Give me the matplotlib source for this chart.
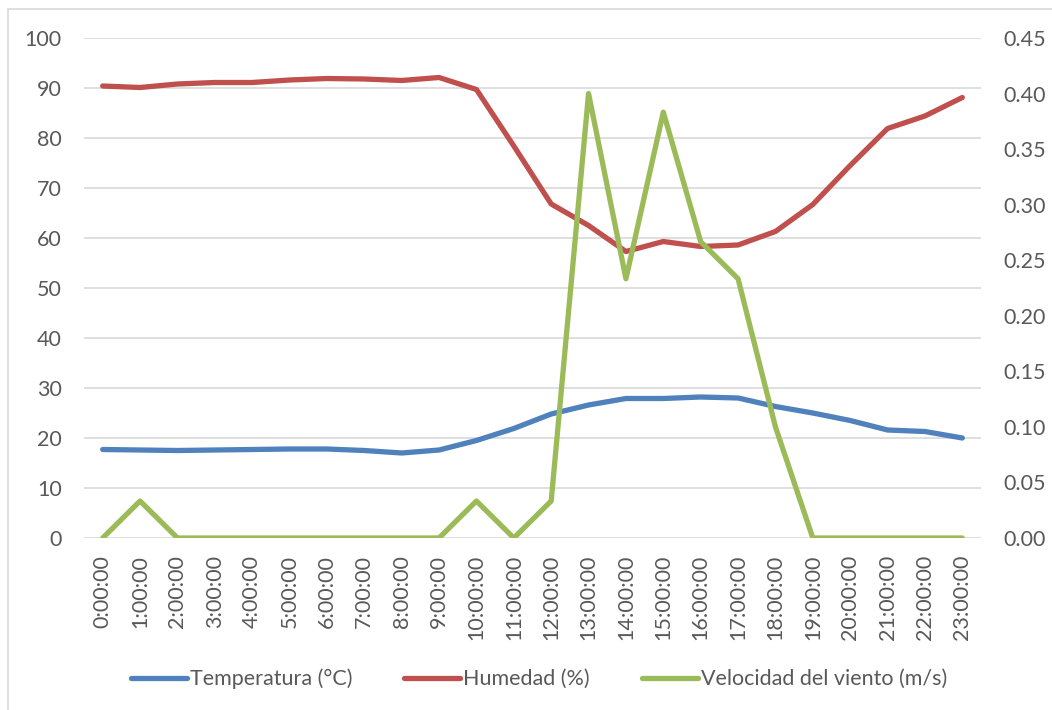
import matplotlib
matplotlib.use("Agg")
import matplotlib.pyplot as plt
from matplotlib.patches import Rectangle
from matplotlib.ticker import FormatStrFormatter, MultipleLocator

plt.rcParams['font.family'] = ['Lato', 'DejaVu Sans']

horas = [f"{h}:00:00" for h in range(24)]

temperatura = [17.7, 17.6, 17.5, 17.6, 17.7, 17.8, 17.8, 17.5, 17.0, 17.6,
               19.5, 21.9, 24.8, 26.6, 27.9, 27.9, 28.2, 28.0, 26.3, 25.0,
               23.5, 21.6, 21.3, 20.0]
humedad = [90.4, 90.1, 90.8, 91.1, 91.1, 91.6, 91.9, 91.8, 91.5, 92.1,
           89.7, 78.4, 66.8, 62.5, 57.3, 59.3, 58.3, 58.6, 61.3, 66.7,
           74.5, 81.9, 84.4, 88.1]
viento = [0.0, 0.0333, 0.0, 0.0, 0.0, 0.0, 0.0, 0.0, 0.0, 0.0,
          0.0333, 0.0, 0.0333, 0.4, 0.2333, 0.3833, 0.2667, 0.2333, 0.1, 0.0,
          0.0, 0.0, 0.0, 0.0]

etiquetas = ["Temperatura (°C)", "Humedad (%)", "Velocidad del viento (m/s)"]
colores = ["#4F81BD", "#C0504D", "#9BBB59"]

W, H = 1052, 710
fig = plt.figure(figsize=(W / 100, H / 100), dpi=100)
fig.patch.set_facecolor("white")

# chart-area border
fig.patches.append(Rectangle((8 / W, -0.1), 1.2, (H - 9) / H + 0.1,
                             transform=fig.transFigure, fill=False,
                             edgecolor="#D9D9D9", linewidth=1.2))

left, right, top, bottom = 84, 981, 38, 538
ax = fig.add_axes([left / W, (H - bottom) / H, (right - left) / W, (bottom - top) / H])
ax2 = ax.twinx()

x = list(range(len(horas)))
lw = 3.8
l1, = ax.plot(x, temperatura, color=colores[0], lw=lw, solid_capstyle="round", solid_joinstyle="round")
l2, = ax.plot(x, humedad, color=colores[1], lw=lw, solid_capstyle="round", solid_joinstyle="round")
l3, = ax2.plot(x, viento, color=colores[2], lw=lw, solid_capstyle="round", solid_joinstyle="round")

ax.set_xlim(-0.5, len(horas) - 0.5)
ax.set_ylim(0, 100)
ax2.set_ylim(0, 0.45)
ax.yaxis.set_major_locator(MultipleLocator(10))
ax2.yaxis.set_major_locator(MultipleLocator(0.05))
ax2.yaxis.set_major_formatter(FormatStrFormatter("%.2f"))

ax.set_xticks(x)
ax.set_xticklabels(horas, rotation=90)

ax.grid(axis="y", color="#D9D9D9", linewidth=1.2)
ax.set_axisbelow(True)
for a in (ax, ax2):
    for s in a.spines.values():
        s.set_visible(False)

fs = 15.5
tick_kw = dict(length=0, labelsize=fs, labelcolor="#595959")
ax.tick_params(axis="y", pad=16, **tick_kw)
ax2.tick_params(axis="y", pad=16, **tick_kw)
ax.tick_params(axis="x", pad=12, **tick_kw)

fig.legend([l1, l2, l3], etiquetas, loc="center", bbox_to_anchor=(539 / W, (H - 679) / H),
           ncol=3, frameon=False, fontsize=fs, labelcolor="#595959",
           handlelength=2.6, handletextpad=0.15, columnspacing=2.4)

fig.savefig("out.png", dpi=100, facecolor="white")
